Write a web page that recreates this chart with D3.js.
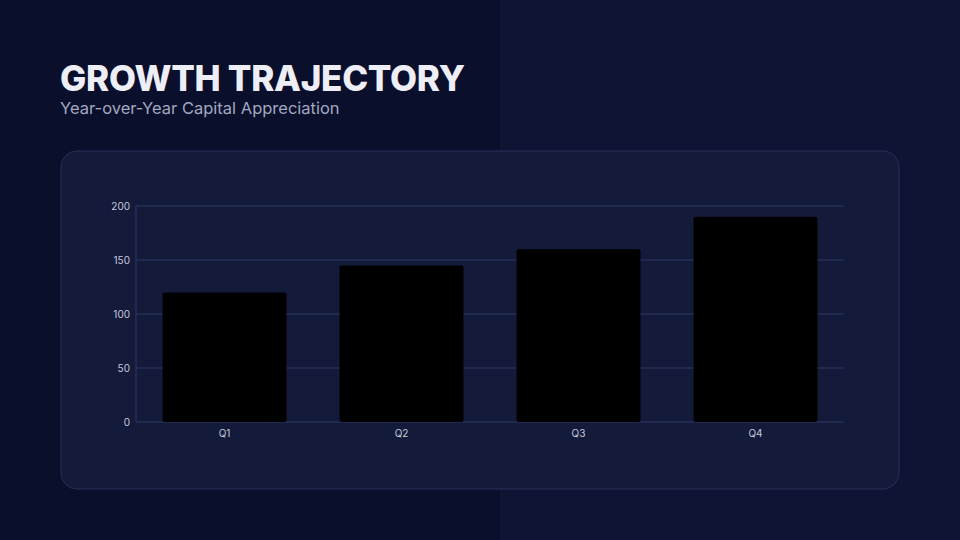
<!DOCTYPE html>
<html><head><meta charset="utf-8">
<script src="https://cdn.jsdelivr.net/npm/d3@7"></script>
<style>body{margin:0;background:#0a0f2c;font-family:Inter,sans-serif}</style>
</head><body><div id="chart"></div>
<script>
const categories = ['Q1', 'Q2', 'Q3', 'Q4'];
const values = [120, 145, 160, 190];
const yTicks = [0, 50, 100, 150, 200];

const W = 960, H = 540;
const svg = d3.select('#chart').append('svg').attr('width', W).attr('height', H);

svg.append('rect').attr('width', 500).attr('height', H).attr('fill', '#0a0f2c');
svg.append('rect').attr('x', 500).attr('width', 460).attr('height', H).attr('fill', '#0e1433');

svg.append('text').text('GROWTH TRAJECTORY')
  .attr('x', 60).attr('y', 91).attr('fill', '#eeeef6')
  .attr('font-size', 35).attr('font-weight', 800).attr('letter-spacing', -0.3);
svg.append('text').text('Year-over-Year Capital Appreciation')
  .attr('x', 60).attr('y', 114).attr('fill', '#a3a8c0').attr('font-size', 16.5);

svg.append('rect').attr('x', 61).attr('y', 151).attr('width', 838).attr('height', 338)
  .attr('rx', 16).attr('fill', '#141a3a').attr('stroke', '#283158');

const x = d3.scaleBand().domain(categories).range([136, 844]).paddingInner(0.3).paddingOuter(0.15);
const y = d3.scaleLinear().domain([0, 200]).range([422, 206]);

const grid = svg.append('g');
grid.selectAll('line').data(yTicks).join('line')
  .attr('x1', 136).attr('x2', 844).attr('y1', d => y(d)).attr('y2', d => y(d))
  .attr('stroke', '#263056').attr('stroke-width', 1.5);
svg.append('line').attr('x1', 136).attr('x2', 136).attr('y1', 206).attr('y2', 422)
  .attr('stroke', '#263056').attr('stroke-width', 1.5);

svg.append('g').selectAll('rect').data(values).join('rect')
  .attr('x', (d, i) => x(categories[i])).attr('width', x.bandwidth())
  .attr('y', d => y(d)).attr('height', d => y(0) - y(d))
  .attr('rx', 2).attr('fill', '#000');

const yAxis = svg.append('g').attr('transform', 'translate(136,0)')
  .call(d3.axisLeft(y).tickValues(yTicks).tickSize(0).tickPadding(6));
yAxis.select('.domain').remove();
yAxis.selectAll('text').attr('fill', '#c5c9dc').attr('font-size', 10).attr('font-family', 'Inter');

const xAxis = svg.append('g').attr('transform', 'translate(0,422)')
  .call(d3.axisBottom(x).tickSize(0).tickPadding(8));
xAxis.select('.domain').remove();
xAxis.selectAll('text').attr('fill', '#c5c9dc').attr('font-size', 10).attr('font-family', 'Inter');
</script></body></html>
